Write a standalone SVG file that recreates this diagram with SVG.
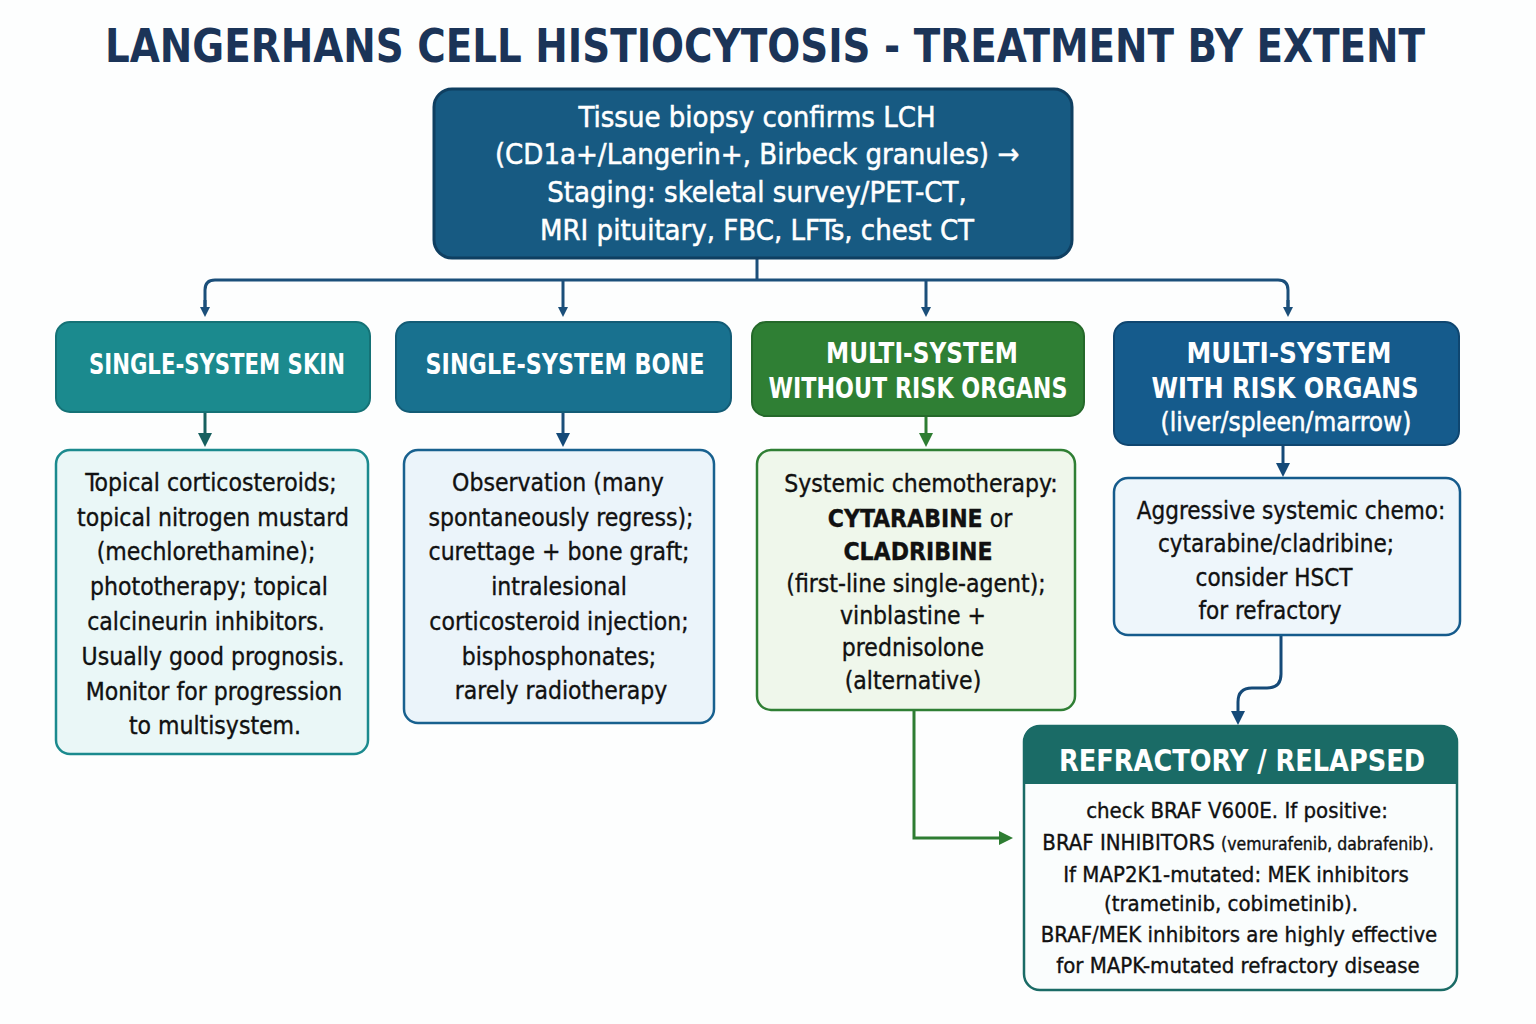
<svg xmlns="http://www.w3.org/2000/svg" width="1536" height="1024" viewBox="0 0 1536 1024">
<defs>
<style>
text{font-family:"DejaVu Sans Condensed","Liberation Sans Narrow","DejaVu Sans",sans-serif;font-stretch:condensed;text-anchor:middle}
.title{font-size:46px;font-weight:bold;fill:#1b3458}
.hw{fill:#fff;font-weight:bold;font-size:28px}
.tw{fill:#fff;font-size:29px;stroke:#fff;stroke-width:0.5}
.b{fill:#111;font-size:24.5px;stroke:#111;stroke-width:0.35}
.s{font-size:24px}
.r{font-size:22px}
.bb{font-weight:bold}
.conn{fill:none;stroke-width:3}
</style>
<marker id="aN" markerWidth="10" markerHeight="10" refX="5" refY="5" orient="auto" markerUnits="userSpaceOnUse" viewBox="0 0 10 10"><path d="M0 0L10 5L0 10z" fill="#1b4f7a"/></marker>
<marker id="aT" markerWidth="14" markerHeight="14" refX="7" refY="7" orient="auto" markerUnits="userSpaceOnUse" viewBox="0 0 14 14"><path d="M0 0L14 7L0 14z" fill="#17605f"/></marker>
<marker id="aG" markerWidth="14" markerHeight="14" refX="7" refY="7" orient="auto" markerUnits="userSpaceOnUse" viewBox="0 0 14 14"><path d="M0 0L14 7L0 14z" fill="#2e7d32"/></marker>
<marker id="aB" markerWidth="14" markerHeight="14" refX="7" refY="7" orient="auto" markerUnits="userSpaceOnUse" viewBox="0 0 14 14"><path d="M0 0L14 7L0 14z" fill="#154a78"/></marker>
</defs>
<rect width="1536" height="1024" fill="#fdfefe"/>
<text class="title" x="765" y="62" textLength="1320" lengthAdjust="spacingAndGlyphs">LANGERHANS CELL HISTIOCYTOSIS - TREATMENT BY EXTENT</text>

<g id="connectors">
<path class="conn" stroke="#1b4f7a" d="M757 258V280"/>
<path class="conn" stroke="#1b4f7a" d="M205 312V290Q205 280 215 280H1278Q1288 280 1288 290V312"/>
<path class="conn" stroke="#1b4f7a" d="M563 280V312" marker-end="url(#aN)"/>
<path class="conn" stroke="#1b4f7a" d="M926 280V312" marker-end="url(#aN)"/>
<path class="conn" stroke="#1b4f7a" d="M205 300V312" marker-end="url(#aN)"/>
<path class="conn" stroke="#1b4f7a" d="M1288 300V312" marker-end="url(#aN)"/>
<path class="conn" stroke="#17605f" d="M205 412V440" marker-end="url(#aT)"/>
<path class="conn" stroke="#1b4f7a" d="M563 412V440" marker-end="url(#aB)"/>
<path class="conn" stroke="#2e7d32" d="M926 416V440" marker-end="url(#aG)"/>
<path class="conn" stroke="#154a78" d="M1283 445V470" marker-end="url(#aB)"/>
<path class="conn" stroke="#154a78" d="M1281 635V674Q1281 688 1267 688H1252Q1238 688 1238 702V718" marker-end="url(#aB)"/>
<path class="conn" stroke="#2e7d32" d="M914 710V838H1006" marker-end="url(#aG)"/>
</g>

<g id="n-top">
<rect x="434" y="89" width="638" height="169" rx="18" fill="#175a82" stroke="#0f3f61" stroke-width="3"/>
<text class="tw" x="757" y="127">Tissue biopsy confirms LCH</text>
<text class="tw" x="757" y="164">(CD1a+/Langerin+, Birbeck granules) →</text>
<text class="tw" x="757" y="202">Staging: skeletal survey/PET-CT,</text>
<text class="tw" x="757" y="240">MRI pituitary, FBC, LFTs, chest CT</text>
</g>

<g id="n-skin">
<rect x="56" y="322" width="314" height="90" rx="14" fill="#1b8a8e" stroke="#157276" stroke-width="2"/>
<text class="hw" x="217" y="374" textLength="256" lengthAdjust="spacingAndGlyphs">SINGLE-SYSTEM SKIN</text>
</g>
<g id="n-bone">
<rect x="396" y="322" width="335" height="90" rx="14" fill="#18718f" stroke="#135c76" stroke-width="2"/>
<text class="hw" x="565" y="374" textLength="279" lengthAdjust="spacingAndGlyphs">SINGLE-SYSTEM BONE</text>
</g>
<g id="n-mswo">
<rect x="752" y="322" width="332" height="94" rx="14" fill="#2f7f34" stroke="#25692a" stroke-width="2"/>
<text class="hw" x="922" y="363" textLength="192" lengthAdjust="spacingAndGlyphs">MULTI-SYSTEM</text>
<text class="hw" x="918" y="398" textLength="299" lengthAdjust="spacingAndGlyphs">WITHOUT RISK ORGANS</text>
</g>
<g id="n-msw">
<rect x="1114" y="322" width="345" height="123" rx="14" fill="#155b8c" stroke="#0f4670" stroke-width="2"/>
<text class="hw" x="1289" y="363" textLength="205" lengthAdjust="spacingAndGlyphs">MULTI-SYSTEM</text>
<text class="hw" x="1285" y="398" textLength="267" lengthAdjust="spacingAndGlyphs">WITH RISK ORGANS</text>
<text class="tw" x="1286" y="431" style="font-size:26px">(liver/spleen/marrow)</text>
</g>

<g id="n-skin-tx">
<rect x="56" y="450" width="312" height="304" rx="14" fill="#eaf7f7" stroke="#1b8a8e" stroke-width="2.5"/>
<text class="b" x="211" y="491">Topical corticosteroids;</text>
<text class="b" x="213" y="526">topical nitrogen mustard</text>
<text class="b" x="206" y="560">(mechlorethamine);</text>
<text class="b" x="209" y="595">phototherapy; topical</text>
<text class="b" x="206" y="630">calcineurin inhibitors.</text>
<text class="b" x="213" y="665">Usually good prognosis.</text>
<text class="b" x="214" y="700">Monitor for progression</text>
<text class="b" x="215" y="734">to multisystem.</text>
</g>
<g id="n-bone-tx">
<rect x="404" y="450" width="310" height="273" rx="14" fill="#ebf4fa" stroke="#18618f" stroke-width="2.5"/>
<text class="b" x="558" y="491">Observation (many</text>
<text class="b" x="561" y="526">spontaneously regress);</text>
<text class="b" x="559" y="560">curettage + bone graft;</text>
<text class="b" x="559" y="595">intralesional</text>
<text class="b" x="559" y="630">corticosteroid injection;</text>
<text class="b" x="559" y="665">bisphosphonates;</text>
<text class="b" x="561" y="699">rarely radiotherapy</text>
</g>
<g id="n-mswo-tx">
<rect x="757" y="450" width="318" height="260" rx="14" fill="#eff7eb" stroke="#2f7f34" stroke-width="2.5"/>
<text class="b" x="921" y="492">Systemic chemotherapy:</text>
<text class="b" x="920" y="527"><tspan class="bb">CYTARABINE</tspan> or</text>
<text class="b bb" x="918" y="560">CLADRIBINE</text>
<text class="b" x="916" y="592">(first-line single-agent);</text>
<text class="b" x="913" y="624">vinblastine +</text>
<text class="b" x="913" y="656">prednisolone</text>
<text class="b" x="913" y="689">(alternative)</text>
</g>
<g id="n-msw-tx">
<rect x="1114" y="478" width="346" height="157" rx="14" fill="#eef6fb" stroke="#155b8c" stroke-width="2.5"/>
<text class="b s" x="1291" y="519">Aggressive systemic chemo:</text>
<text class="b s" x="1276" y="552">cytarabine/cladribine;</text>
<text class="b s" x="1274" y="586">consider HSCT</text>
<text class="b s" x="1270" y="619">for refractory</text>
</g>
<g id="n-refractory">
<rect x="1024" y="726" width="433" height="264" rx="16" fill="#fafdfd" stroke="#1a6b66" stroke-width="2.5"/>
<path d="M1024 784V742Q1024 726 1040 726H1441Q1457 726 1457 742V784Z" fill="#1a6b66"/>
<text class="hw" x="1242" y="771" style="font-size:31px" textLength="366" lengthAdjust="spacingAndGlyphs">REFRACTORY / RELAPSED</text>
<text class="b r" x="1237" y="818">check BRAF V600E. If positive:</text>
<text class="b r" x="1238" y="850">BRAF INHIBITORS <tspan style="font-size:17.5px">(vemurafenib, dabrafenib).</tspan></text>
<text class="b r" x="1236" y="882">If MAP2K1-mutated: MEK inhibitors</text>
<text class="b r" x="1231" y="911">(trametinib, cobimetinib).</text>
<text class="b r" x="1239" y="942">BRAF/MEK inhibitors are highly effective</text>
<text class="b r" x="1238" y="973">for MAPK-mutated refractory disease</text>
</g>
</svg>
